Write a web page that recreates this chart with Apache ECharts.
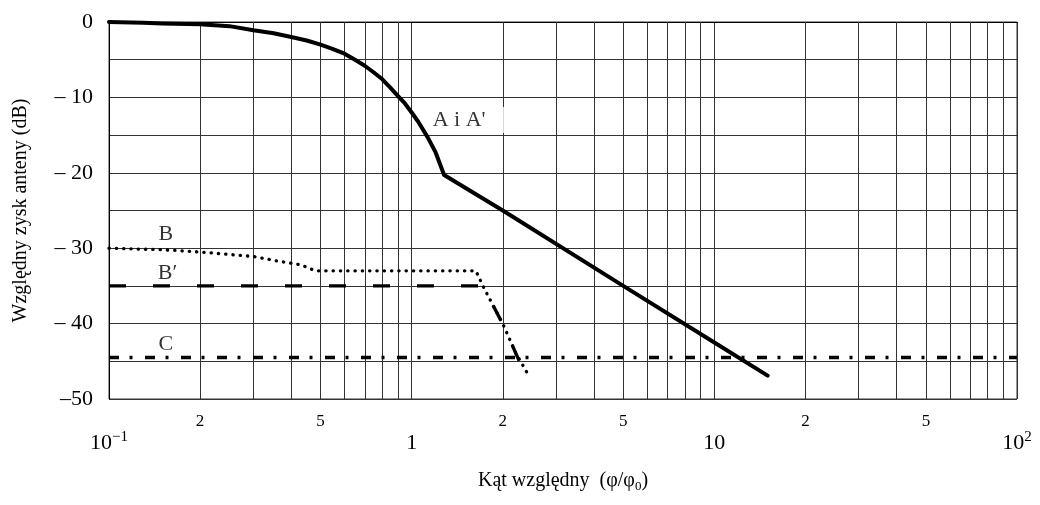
<!DOCTYPE html>
<html><head><meta charset="utf-8">
<script src="https://cdn.jsdelivr.net/npm/echarts@6/dist/echarts.min.js"></script>
<style>html,body{margin:0;padding:0;background:#fff}#c{width:1040px;height:505px}</style>
</head><body><div id="c"></div>
<script>
// ---- data ----
const curveA_x = [0.1, 0.13, 0.15, 0.2, 0.25, 0.3, 0.35, 0.4, 0.45, 0.5, 0.55, 0.6, 0.65, 0.7, 0.75, 0.8, 0.85, 0.9, 0.95, 1.0, 1.05, 1.13, 1.2, 1.28, 2, 5, 10, 15];
const curveA_y = [0, -0.1, -0.2, -0.3, -0.55, -1.1, -1.5, -2.0, -2.45, -3.0, -3.6, -4.2, -5.0, -5.8, -6.7, -7.6, -8.7, -9.8, -10.8, -12, -13.2, -15.3, -17.3, -20.3, -25, -35, -42.5, -46.9];
const curveB_x = [0.1, 0.15, 0.2, 0.3, 0.36, 0.43, 0.48, 1.0, 1.63, 1.72, 2.02, 2.2, 2.43];
const curveB_y = [-30, -30.2, -30.5, -31.1, -31.7, -32.2, -33, -33, -33, -35, -40.4, -43.8, -46.8];
const curveBp_x = [0.1, 1.0, 1.72, 2.02, 2.28];
const curveBp_y = [-35, -35, -35, -40.4, -45.2];
const curveC_x = [0.1, 1, 10, 100];
const curveC_y = [-44.5, -44.5, -44.5, -44.5];

const yTickValues = [0, -10, -20, -30, -40, -50];
const yTickLabels = ['0', '– 10', '– 20', '– 30', '– 40', '–50'];
const xDecadeValues = [0.1, 1, 10, 100];
const xDecadeBase = ['10', '1', '10', '10'];
const xDecadeExp = ['−1', '', '', '2'];
const xMinorGrid = [0.2,0.3,0.4,0.5,0.6,0.7,0.8,0.9, 2,3,4,5,6,7,8,9, 20,30,40,50,60,70,80,90];
const xMinorLabelValues = [0.2, 0.5, 2, 5, 20, 50];
const xMinorLabels = ['2', '5', '2', '5', '2', '5'];
const curveNames = ['A i A\'', 'B', 'B′', 'C'];
const curveNameAnchorX = [1.13, 0.154, 0.156, 0.154];
const curveNameAnchorY = [-13.0, -28.2, -33.3, -42.7];
const xTitle = 'Kąt względny  (φ/φ{sub|0})';
const yTitle = 'Względny zysk anteny (dB)';

// ---- build ----
const pairs = (xs, ys) => xs.map((x, i) => [x, ys[i]]);
const SERIF = '"Liberation Serif", "Times New Roman", serif';

const minorMarks = xMinorGrid.map(v => {
  const li = xMinorLabelValues.indexOf(v);
  return {
    xAxis: v,
    label: li >= 0 ? {
      show: true, position: 'start', distance: 14, formatter: xMinorLabels[li],
      fontFamily: SERIF, fontSize: 17, color: '#000'
    } : { show: false }
  };
});

const nameData = curveNames.map((n, i) => {
  const item = { name: n, value: [curveNameAnchorX[i], curveNameAnchorY[i]] };
  if (i === 0) {
    item.label = { position: 'right', distance: 0, backgroundColor: '#fff', padding: [2, 22, 2, 5] };
  }
  return item;
});

const chart = echarts.init(document.getElementById('c'), null, { renderer: 'canvas' });
chart.setOption({
  animation: false,
  backgroundColor: '#fff',
  grid: { left: 109, right: 23, top: 22, bottom: 106, show: true, borderColor: '#333', borderWidth: 1, backgroundColor: 'transparent' },
  xAxis: {
    type: 'log', logBase: 10, min: 0.1, max: 100,
    axisLine: { show: true, lineStyle: { color: '#000', width: 1 } },
    axisTick: { show: false },
    splitLine: { show: true, lineStyle: { color: '#333', width: 1 } },
    axisLabel: {
      margin: 31, color: '#000', fontFamily: SERIF,
      formatter: v => {
        let i = xDecadeValues.findIndex(d => Math.abs(Math.log10(d) - Math.log10(v)) < 1e-6);
        if (i < 0) return '';
        return xDecadeExp[i] ? '{b|' + xDecadeBase[i] + '}{s|' + xDecadeExp[i] + '}' : '{b|' + xDecadeBase[i] + '}';
      },
      rich: {
        b: { fontFamily: SERIF, fontSize: 22, lineHeight: 26, color: '#000' },
        s: { fontFamily: SERIF, fontSize: 15, lineHeight: 15, verticalAlign: 'top', color: '#000' }
      }
    },
    name: xTitle, nameLocation: 'middle', nameGap: 70,
    nameTextStyle: {
      fontFamily: SERIF, fontSize: 20, color: '#000', lineHeight: 24,
      rich: {
        sub: { fontFamily: SERIF, fontSize: 13, lineHeight: 13, verticalAlign: 'bottom', color: '#000' }
      }
    }
  },
  yAxis: {
    type: 'value', min: -50, max: 0, interval: 5,
    axisLine: { show: true, lineStyle: { color: '#000', width: 1 } },
    axisTick: { show: false },
    splitLine: { show: true, lineStyle: { color: '#333', width: 1 } },
    axisLabel: {
      margin: 16, color: '#000', fontFamily: SERIF, fontSize: 22,
      formatter: v => { const i = yTickValues.indexOf(v); return i >= 0 ? yTickLabels[i] : ''; }
    },
    name: yTitle, nameLocation: 'middle', nameGap: 78,
    nameTextStyle: { fontFamily: SERIF, fontSize: 20, color: '#000' }
  },
  series: [
    {
      name: 'C', type: 'line', data: pairs(curveC_x, curveC_y), symbol: 'none', z: 3,
      lineStyle: { color: '#000', width: 3.4, type: [10, 10.5, 3, 12.5], cap: 'butt' },
      markLine: {
        silent: true, symbol: 'none', z: 1, animation: false,
        lineStyle: { color: '#333', width: 1, type: 'solid' },
        label: { show: false },
        emphasis: { disabled: true },
        data: minorMarks
      }
    },
    {
      name: 'B', type: 'line', data: pairs(curveB_x, curveB_y), symbol: 'none', z: 3,
      lineStyle: { color: '#000', width: 3.3, type: [0.3, 7], cap: 'round' }
    },
    {
      name: 'B′', type: 'line', data: pairs(curveBp_x, curveBp_y), symbol: 'none', z: 3,
      lineStyle: { color: '#000', width: 3.4, type: [17, 27], cap: 'butt' }
    },
    {
      name: 'A', type: 'line', data: pairs(curveA_x, curveA_y), symbol: 'none', z: 4,
      lineStyle: { color: '#000', width: 4, cap: 'round', join: 'round' }
    },
    {
      name: 'labels', type: 'scatter', symbolSize: 0, z: 10, silent: true,
      data: nameData,
      label: { show: true, position: 'inside', formatter: '{b}', fontFamily: SERIF, fontSize: 22, color: '#000' }
    }
  ]
});
</script>
</body></html>
